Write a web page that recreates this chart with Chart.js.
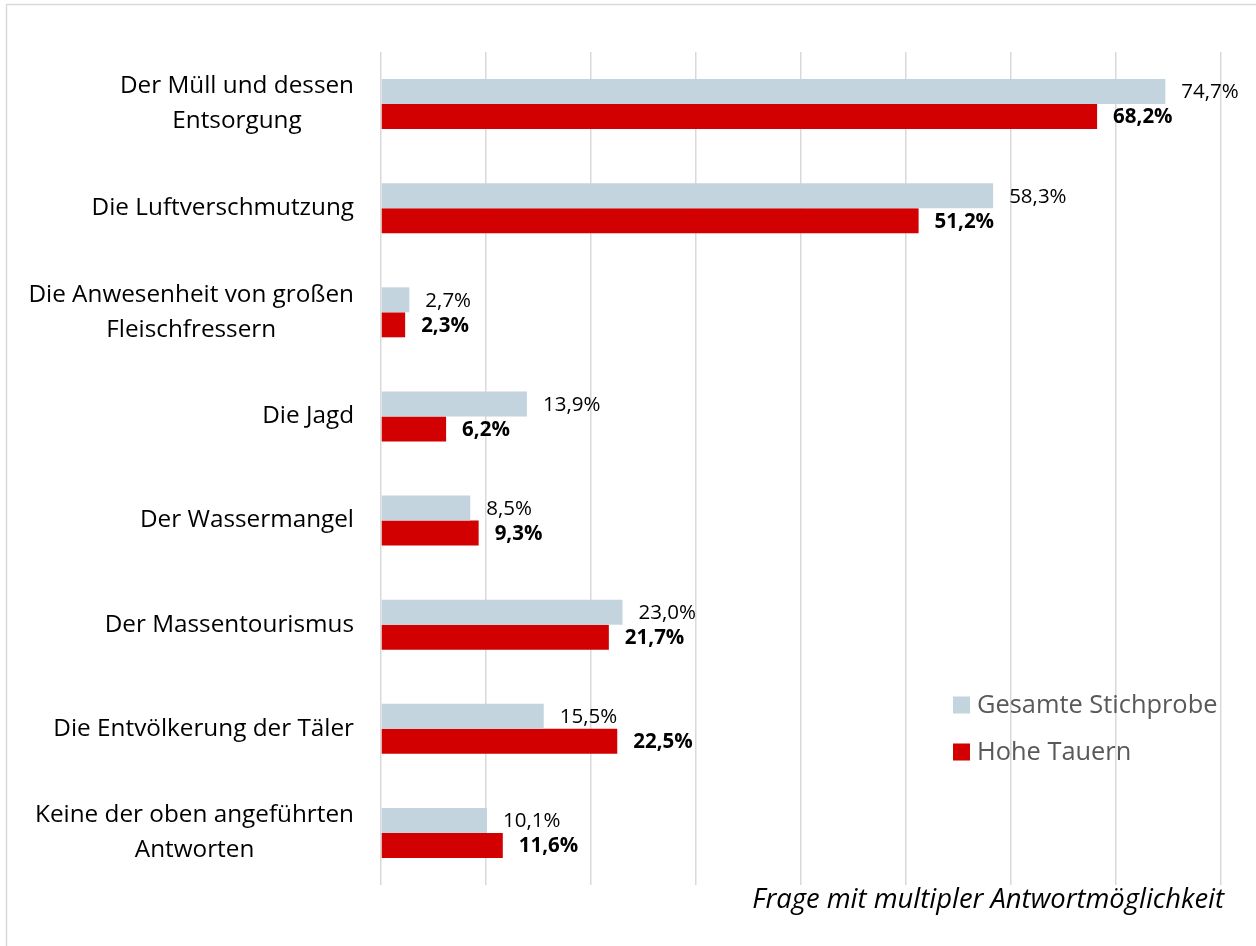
<!DOCTYPE html>
<html>
<head>
<meta charset="utf-8">
<script src="https://cdn.jsdelivr.net/npm/chart.js@4.4.1/dist/chart.umd.min.js"></script>
<style>
  html, body { margin: 0; padding: 0; background: #fff; }
  #wrap { width: 1256px; height: 946px; position: relative; }
</style>
</head>
<body>
<div id="wrap"><canvas id="c" width="1256" height="946"></canvas></div>
<script>
const categories = [
  ["Der Müll und dessen", "Entsorgung"],
  ["Die Luftverschmutzung"],
  ["Die Anwesenheit von großen", "Fleischfressern"],
  ["Die Jagd"],
  ["Der Wassermangel"],
  ["Der Massentourismus"],
  ["Die Entvölkerung der Täler"],
  ["Keine der oben angeführten", "Antworten"]
];
const seriesNames = ["Gesamte Stichprobe", "Hohe Tauern"];
const gesamt = [74.7, 58.3, 2.7, 13.9, 8.5, 23.0, 15.5, 10.1];
const hoheTauern = [68.2, 51.2, 2.3, 6.2, 9.3, 21.7, 22.5, 11.6];
const xMin = 0, xMax = 80, xStep = 10;
const footnote = "Frage mit multipler Antwortmöglichkeit";

const FONT = "'Open Sans', sans-serif";

const fmt = v => v.toFixed(1).replace('.', ',') + '%';

const bgPlugin = {
  id: 'bg',
  beforeDraw(chart) {
    const ctx = chart.ctx;
    ctx.save();
    ctx.fillStyle = '#fff';
    ctx.fillRect(0, 0, chart.width, chart.height);
    ctx.strokeStyle = '#d9d9d9';
    ctx.lineWidth = 1.5;
    ctx.strokeRect(6.5, 4.5, chart.width + 20, chart.height + 20);
    ctx.restore();
  }
};

const catLabelPlugin = {
  id: 'catLabels',
  afterDraw(chart) {
    const ctx = chart.ctx;
    const y = chart.scales.y;
    const rightEdge = chart.chartArea.left - 27;
    const lh = 35;
    ctx.save();
    ctx.font = `24.3px ${FONT}`;
    ctx.fillStyle = '#000';
    ctx.textBaseline = 'middle';
    ctx.textAlign = 'center';
    categories.forEach((lines, i) => {
      const cy = y.getPixelForValue(i);
      const w = Math.max(...lines.map(l => ctx.measureText(l).width));
      const cx = rightEdge - w / 2;
      lines.forEach((l, k) => {
        const ly = cy + (k - (lines.length - 1) / 2) * lh;
        ctx.fillText(l, cx, ly);
      });
    });
    ctx.restore();
  }
};

const valueLabelPlugin = {
  id: 'valueLabels',
  afterDatasetsDraw(chart) {
    const ctx = chart.ctx;
    ctx.save();
    ctx.textBaseline = 'middle';
    ctx.textAlign = 'left';
    ctx.fillStyle = '#000';
    chart.data.datasets.forEach((ds, di) => {
      const meta = chart.getDatasetMeta(di);
      ctx.font = (di === 1 ? 'bold ' : '') + `20.5px ${FONT}`;
      meta.data.forEach((bar, i) => {
        ctx.fillText(fmt(ds.data[i]), bar.x + 16, bar.y + 1);
      });
    });
    ctx.restore();
  }
};

const legendPlugin = {
  id: 'customLegend',
  afterDraw(chart) {
    const ctx = chart.ctx;
    const x0 = chart.chartArea.right - 268;
    const ys = [705, 752];
    ctx.save();
    ctx.font = `25.4px ${FONT}`;
    ctx.textBaseline = 'middle';
    ctx.textAlign = 'left';
    chart.data.datasets.forEach((ds, i) => {
      ctx.fillStyle = ds.backgroundColor;
      ctx.fillRect(x0, ys[i] - 8.5, 17, 17);
      ctx.fillStyle = '#595959';
      ctx.fillText(ds.label, x0 + 24, ys[i] + 1);
    });
    ctx.font = `italic 27.4px ${FONT}`;
    ctx.fillStyle = '#000';
    ctx.textAlign = 'right';
    ctx.fillText(footnote, 1224, 900);
    ctx.restore();
  }
};

new Chart(document.getElementById('c'), {
  type: 'bar',
  data: {
    labels: categories,
    datasets: [
      { label: seriesNames[0], data: gesamt, backgroundColor: '#c4d4df', barPercentage: 1, categoryPercentage: 0.48 },
      { label: seriesNames[1], data: hoheTauern, backgroundColor: '#d20000', barPercentage: 1, categoryPercentage: 0.48 }
    ]
  },
  options: {
    indexAxis: 'y',
    responsive: false,
    animation: false,
    layout: { padding: { left: 0, top: 52, right: 35, bottom: 61 } },
    plugins: { legend: { display: false }, tooltip: { enabled: false } },
    scales: {
      x: {
        min: xMin, max: xMax,
        ticks: { display: false, stepSize: xStep },
        grid: { color: '#d9d9d9', lineWidth: 1.5, drawTicks: false },
        border: { display: false },
        afterFit(s) { s.height = 0; }
      },
      y: {
        ticks: { display: false },
        grid: { display: false, drawTicks: false },
        border: { display: false },
        afterFit(s) { s.width = 381; }
      }
    }
  },
  plugins: [bgPlugin, catLabelPlugin, valueLabelPlugin, legendPlugin]
});
</script>
</body>
</html>
